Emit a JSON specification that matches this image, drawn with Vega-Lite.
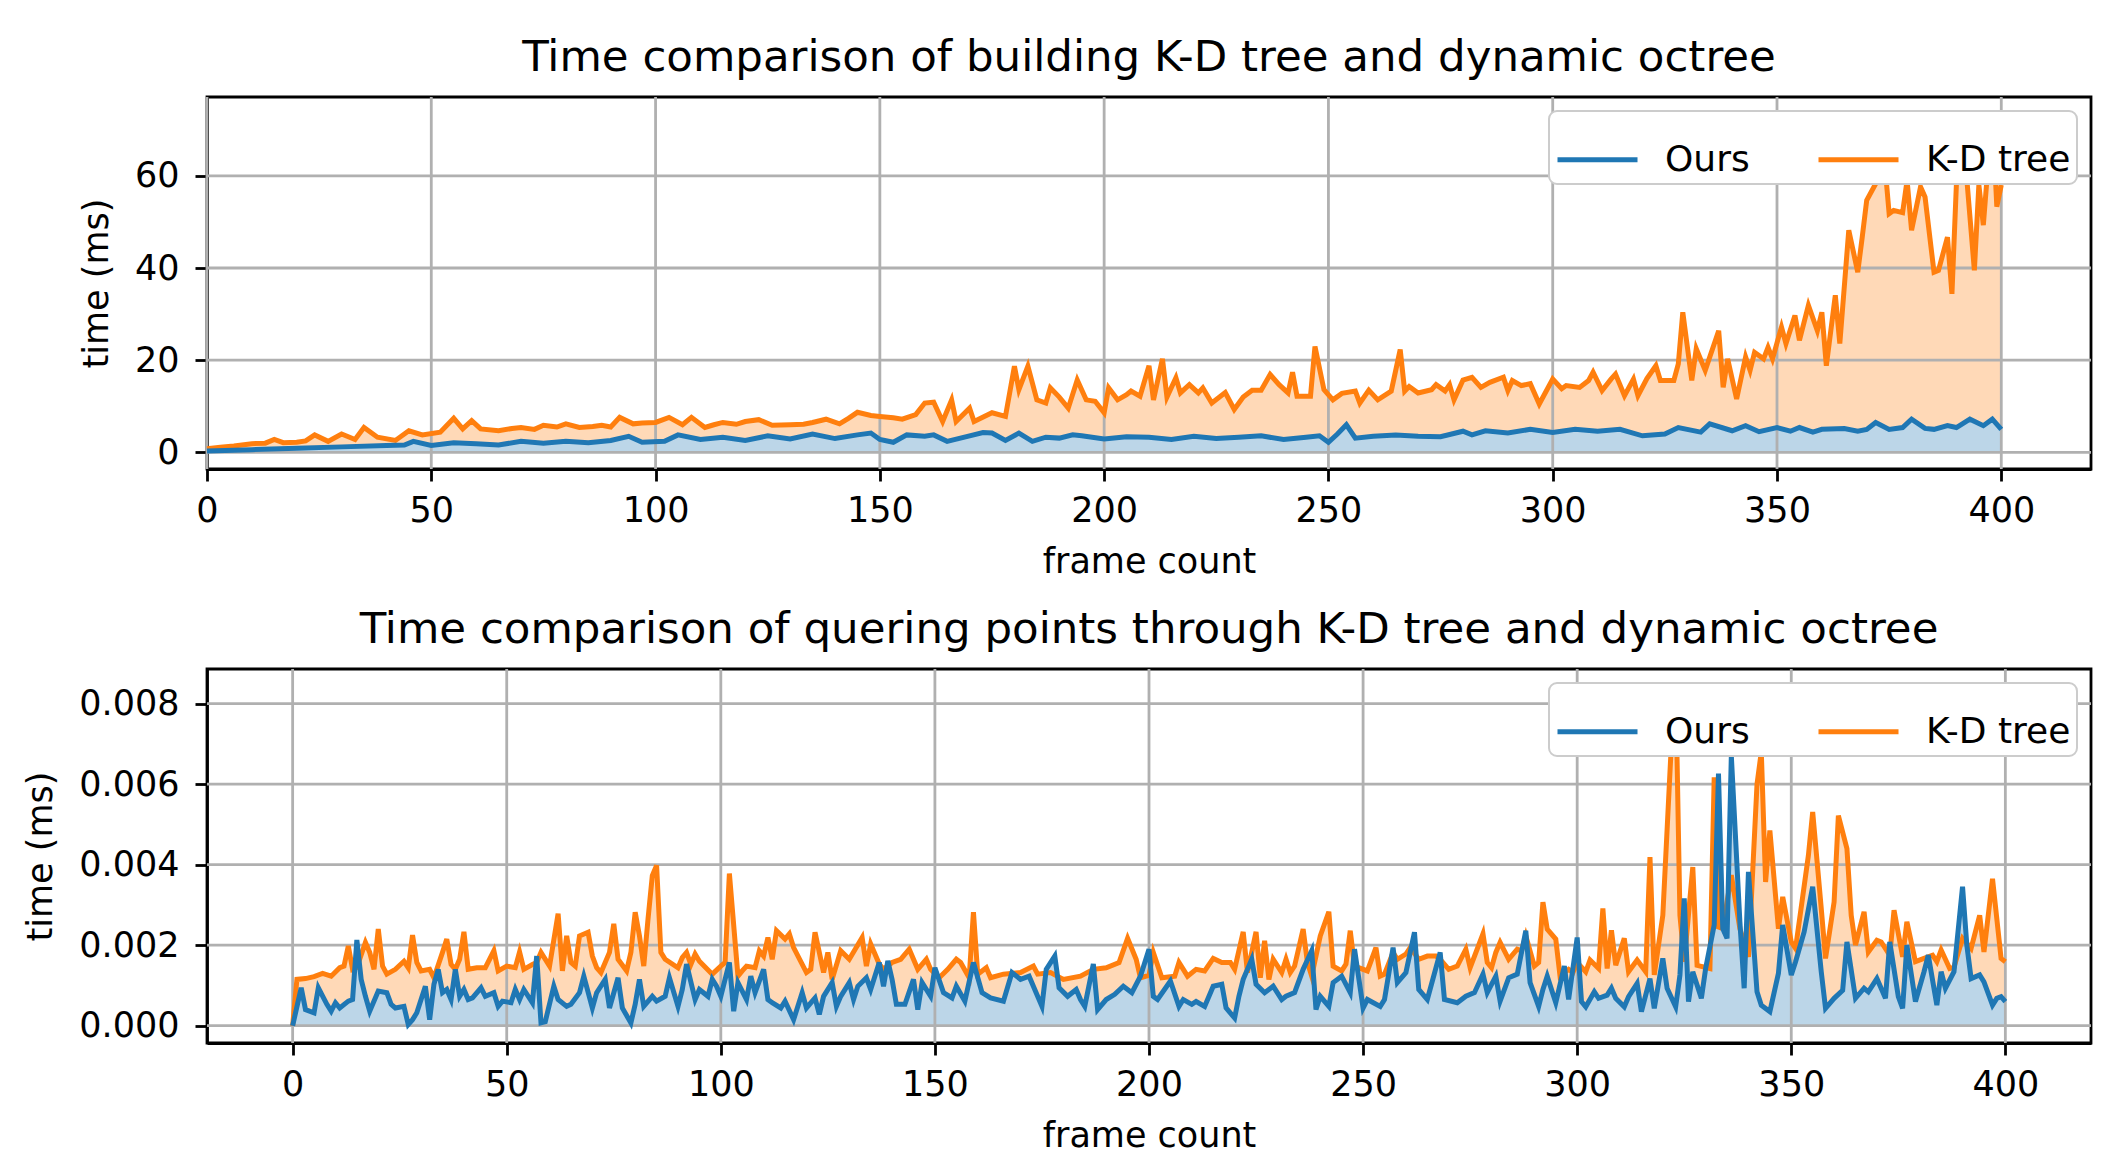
{
  "$schema": "https://vega.github.io/schema/vega-lite/v6.json",
  "background": "white",
  "padding": {"left": 22, "top": 34, "right": 0, "bottom": 0},
  "autosize": {"type": "pad"},
  "config": {
    "font": "DejaVu Sans",
    "view": {"stroke": "black", "strokeWidth": 2.8},
    "axis": {
      "grid": false,
      "domainColor": "black",
      "domainWidth": 2.8,
      "tickColor": "black",
      "tickWidth": 2.8,
      "tickSize": 12,
      "labelFont": "DejaVu Sans",
      "labelFontSize": 35,
      "labelColor": "black",
      "labelPadding": 12,
      "labelFlush": false,
      "labelOverlap": false,
      "titleFont": "DejaVu Sans",
      "titleFontSize": 35,
      "titleFontWeight": "normal",
      "titleColor": "black",
      "titlePadding": 16
    },
    "axisY": {"labelPadding": 16, "titlePadding": 20},
    "title": {
      "font": "DejaVu Sans",
      "fontSize": 43.5,
      "fontWeight": "normal",
      "color": "black",
      "anchor": "middle",
      "offset": 15,
      "baseline": "alphabetic"
    },
    "legend": {
      "orient": "top-right",
      "direction": "horizontal",
      "columns": 2,
      "offset": 14,
      "padding": 6,
      "fillColor": "white",
      "strokeColor": "#cccccc",
      "strokeWidth": 2,
      "cornerRadius": 8,
      "labelFont": "DejaVu Sans",
      "labelFontSize": 36,
      "labelColor": "black",
      "labelLimit": 400,
      "labelOffset": 25,
      "columnPadding": 58,
      "symbolType": "stroke",
      "symbolSize": 6400,
      "symbolStrokeWidth": 5
    }
  },
  "datasets": {
    "topOurs": [
      {"f":0,"v":0.3},{"f":10,"v":0.6},{"f":20,"v":0.9},{"f":30,"v":1.2},{"f":40,"v":1.5},{"f":44,"v":1.6},{"f":46,"v":2.4},{"f":50,"v":1.5},{"f":55,"v":2.1},{"f":60,"v":1.9},{"f":65,"v":1.6},{"f":70,"v":2.4},{"f":75,"v":2.0},{"f":80,"v":2.4},{"f":85,"v":2.1},{"f":90,"v":2.6},{"f":94,"v":3.5},{"f":97,"v":2.2},{"f":102,"v":2.4},{"f":105,"v":3.8},{"f":110,"v":2.8},{"f":115,"v":3.3},{"f":120,"v":2.6},{"f":125,"v":3.6},{"f":130,"v":2.9},{"f":135,"v":4.0},{"f":140,"v":3.0},{"f":145,"v":3.8},{"f":148,"v":4.2},{"f":150,"v":2.8},{"f":153,"v":2.2},{"f":156,"v":3.8},{"f":160,"v":3.5},{"f":162,"v":3.8},{"f":165,"v":2.4},{"f":170,"v":3.6},{"f":173,"v":4.3},{"f":175,"v":4.2},{"f":178,"v":2.6},{"f":181,"v":4.2},{"f":184,"v":2.4},{"f":187,"v":3.3},{"f":190,"v":3.1},{"f":193,"v":3.8},{"f":195,"v":3.6},{"f":200,"v":2.9},{"f":205,"v":3.4},{"f":210,"v":3.3},{"f":215,"v":2.8},{"f":220,"v":3.5},{"f":225,"v":3.0},{"f":230,"v":3.3},{"f":235,"v":3.6},{"f":240,"v":2.8},{"f":245,"v":3.3},{"f":248,"v":3.6},{"f":250,"v":2.2},{"f":252,"v":4.0},{"f":254,"v":6.0},{"f":256,"v":3.1},{"f":260,"v":3.5},{"f":265,"v":3.8},{"f":270,"v":3.5},{"f":275,"v":3.4},{"f":280,"v":4.6},{"f":282,"v":3.8},{"f":285,"v":4.7},{"f":290,"v":4.2},{"f":295,"v":5.0},{"f":300,"v":4.3},{"f":305,"v":5.0},{"f":310,"v":4.6},{"f":315,"v":5.0},{"f":320,"v":3.6},{"f":325,"v":4.0},{"f":328,"v":5.4},{"f":333,"v":4.4},{"f":335,"v":6.2},{"f":340,"v":4.7},{"f":343,"v":5.8},{"f":346,"v":4.5},{"f":350,"v":5.4},{"f":353,"v":4.6},{"f":355,"v":5.4},{"f":358,"v":4.4},{"f":360,"v":5.0},{"f":365,"v":5.2},{"f":368,"v":4.6},{"f":370,"v":5.0},{"f":372,"v":6.5},{"f":375,"v":5.0},{"f":378,"v":5.4},{"f":380,"v":7.2},{"f":383,"v":5.2},{"f":385,"v":5.0},{"f":388,"v":5.8},{"f":390,"v":5.4},{"f":393,"v":7.2},{"f":396,"v":5.8},{"f":398,"v":7.2},{"f":400,"v":5.0}
    ],
    "topKD": [
      {"f":0,"v":0.8},{"f":3,"v":1.1},{"f":6,"v":1.4},{"f":10,"v":1.9},{"f":13,"v":2.0},{"f":15,"v":2.8},{"f":17,"v":2.1},{"f":20,"v":2.2},{"f":22,"v":2.5},{"f":24,"v":3.8},{"f":27,"v":2.4},{"f":30,"v":4.0},{"f":33,"v":2.8},{"f":35,"v":5.4},{"f":38,"v":3.3},{"f":42,"v":2.6},{"f":45,"v":4.7},{"f":48,"v":3.8},{"f":52,"v":4.4},{"f":55,"v":7.4},{"f":57,"v":5.1},{"f":59,"v":6.9},{"f":61,"v":5.1},{"f":65,"v":4.7},{"f":68,"v":5.2},{"f":70,"v":5.4},{"f":73,"v":5.0},{"f":75,"v":5.9},{"f":78,"v":5.5},{"f":80,"v":6.2},{"f":83,"v":5.4},{"f":86,"v":5.6},{"f":88,"v":5.9},{"f":90,"v":5.5},{"f":92,"v":7.6},{"f":95,"v":6.2},{"f":97,"v":6.4},{"f":100,"v":6.5},{"f":103,"v":7.6},{"f":106,"v":6.0},{"f":108,"v":7.6},{"f":111,"v":5.4},{"f":113,"v":6.0},{"f":115,"v":6.5},{"f":118,"v":6.1},{"f":120,"v":6.7},{"f":123,"v":7.1},{"f":126,"v":5.9},{"f":130,"v":6.0},{"f":133,"v":6.1},{"f":135,"v":6.5},{"f":138,"v":7.2},{"f":141,"v":6.2},{"f":143,"v":7.4},{"f":145,"v":8.7},{"f":148,"v":8.0},{"f":150,"v":7.8},{"f":153,"v":7.5},{"f":155,"v":7.2},{"f":158,"v":8.2},{"f":160,"v":10.7},{"f":162,"v":10.9},{"f":164,"v":6.7},{"f":166,"v":11.4},{"f":167,"v":6.7},{"f":170,"v":9.6},{"f":171,"v":6.7},{"f":175,"v":8.6},{"f":178,"v":7.8},{"f":180,"v":18.7},{"f":181,"v":13.6},{"f":183,"v":18.7},{"f":185,"v":11.4},{"f":187,"v":10.7},{"f":188,"v":14.0},{"f":190,"v":12.0},{"f":192,"v":9.6},{"f":194,"v":15.7},{"f":196,"v":11.4},{"f":198,"v":11.1},{"f":200,"v":8.6},{"f":201,"v":14.0},{"f":203,"v":11.4},{"f":205,"v":12.5},{"f":206,"v":13.3},{"f":208,"v":12.2},{"f":210,"v":18.8},{"f":211,"v":11.4},{"f":213,"v":20.3},{"f":214,"v":12.0},{"f":216,"v":16.2},{"f":217,"v":12.9},{"f":219,"v":14.7},{"f":221,"v":12.9},{"f":222,"v":14.0},{"f":224,"v":10.7},{"f":227,"v":13.0},{"f":229,"v":9.3},{"f":231,"v":12.0},{"f":233,"v":13.5},{"f":235,"v":13.5},{"f":237,"v":16.9},{"f":239,"v":14.7},{"f":241,"v":12.9},{"f":242,"v":17.4},{"f":243,"v":12.2},{"f":246,"v":12.2},{"f":247,"v":23.0},{"f":249,"v":13.6},{"f":251,"v":11.4},{"f":253,"v":12.8},{"f":256,"v":13.3},{"f":257,"v":10.7},{"f":259,"v":13.5},{"f":261,"v":11.4},{"f":264,"v":13.3},{"f":266,"v":22.3},{"f":267,"v":13.3},{"f":268,"v":14.3},{"f":270,"v":12.9},{"f":273,"v":13.6},{"f":274,"v":14.7},{"f":276,"v":13.3},{"f":277,"v":14.7},{"f":278,"v":11.4},{"f":280,"v":15.7},{"f":282,"v":16.3},{"f":284,"v":14.1},{"f":286,"v":15.2},{"f":289,"v":16.3},{"f":290,"v":13.4},{"f":291,"v":15.6},{"f":293,"v":14.5},{"f":295,"v":14.9},{"f":297,"v":10.5},{"f":300,"v":15.9},{"f":302,"v":13.8},{"f":303,"v":14.5},{"f":306,"v":14.1},{"f":308,"v":15.6},{"f":309,"v":17.4},{"f":311,"v":13.4},{"f":313,"v":15.9},{"f":314,"v":17.0},{"f":316,"v":12.3},{"f":318,"v":15.9},{"f":319,"v":12.3},{"f":321,"v":16.0},{"f":323,"v":18.8},{"f":324,"v":15.6},{"f":327,"v":15.6},{"f":328,"v":19.2},{"f":329,"v":30.4},{"f":331,"v":15.6},{"f":332,"v":22.5},{"f":334,"v":17.8},{"f":337,"v":26.4},{"f":338,"v":14.1},{"f":339,"v":20.3},{"f":341,"v":11.6},{"f":343,"v":20.7},{"f":344,"v":17.8},{"f":345,"v":21.7},{"f":347,"v":20.3},{"f":348,"v":22.8},{"f":349,"v":20.3},{"f":351,"v":27.2},{"f":352,"v":23.6},{"f":354,"v":29.7},{"f":355,"v":24.3},{"f":357,"v":31.9},{"f":359,"v":26.4},{"f":360,"v":30.4},{"f":361,"v":18.8},{"f":363,"v":34.1},{"f":364,"v":23.6},{"f":366,"v":48.2},{"f":368,"v":39.1},{"f":369,"v":46.7},{"f":370,"v":54.7},{"f":372,"v":58.3},{"f":373,"v":61.0},{"f":374,"v":63.0},{"f":375,"v":51.8},{"f":376,"v":52.5},{"f":378,"v":52.0},{"f":379,"v":59.0},{"f":380,"v":48.2},{"f":382,"v":57.6},{"f":383,"v":55.4},{"f":385,"v":39.1},{"f":386,"v":39.5},{"f":388,"v":46.7},{"f":389,"v":34.4},{"f":390,"v":58.3},{"f":392,"v":63.0},{"f":394,"v":39.5},{"f":395,"v":58.0},{"f":396,"v":49.3},{"f":398,"v":74.0},{"f":399,"v":53.3},{"f":400,"v":58.0}
    ],
    "botOurs": [
      {"f":0,"v":0},{"f":2,"v":0.00094},{"f":3,"v":0.0004},{"f":5,"v":0.00032},{"f":6,"v":0.00094},{"f":8,"v":0.00053},{"f":9,"v":0.00036},{"f":10,"v":0.00057},{"f":11,"v":0.00044},{"f":13,"v":0.00061},{"f":14,"v":0.00065},{"f":15,"v":0.00213},{"f":16,"v":0.00115},{"f":17,"v":0.00073},{"f":18,"v":0.00036},{"f":20,"v":0.00086},{"f":22,"v":0.00082},{"f":23,"v":0.00053},{"f":24,"v":0.00044},{"f":26,"v":0.00048},{"f":27,"v":0.00003},{"f":28,"v":0.00015},{"f":29,"v":0.00032},{"f":31,"v":0.00098},{"f":32,"v":0.00015},{"f":33,"v":0.00103},{"f":34,"v":0.0014},{"f":35,"v":0.00082},{"f":36,"v":0.0009},{"f":37,"v":0.00065},{"f":38,"v":0.0014},{"f":39,"v":0.00073},{"f":40,"v":0.0009},{"f":41,"v":0.00065},{"f":42,"v":0.00069},{"f":44,"v":0.00094},{"f":45,"v":0.00073},{"f":47,"v":0.00082},{"f":48,"v":0.00048},{"f":49,"v":0.00061},{"f":51,"v":0.00057},{"f":52,"v":0.0009},{"f":53,"v":0.00065},{"f":54,"v":0.0009},{"f":56,"v":0.00057},{"f":57,"v":0.00173},{"f":58,"v":0.00007},{"f":59,"v":0.0001},{"f":61,"v":0.00098},{"f":62,"v":0.00065},{"f":64,"v":0.00048},{"f":65,"v":0.00053},{"f":67,"v":0.00082},{"f":68,"v":0.00123},{"f":70,"v":0.00044},{"f":71,"v":0.00082},{"f":73,"v":0.00115},{"f":74,"v":0.00044},{"f":76,"v":0.00119},{"f":77,"v":0.00044},{"f":79,"v":0.00007},{"f":80,"v":0.00053},{"f":81,"v":0.00115},{"f":82,"v":0.00048},{"f":84,"v":0.00073},{"f":85,"v":0.00061},{"f":87,"v":0.00073},{"f":88,"v":0.00119},{"f":90,"v":0.00048},{"f":91,"v":0.0009},{"f":92,"v":0.00153},{"f":94,"v":0.00065},{"f":95,"v":0.0009},{"f":97,"v":0.00073},{"f":98,"v":0.00115},{"f":99,"v":0.00098},{"f":100,"v":0.00073},{"f":102,"v":0.00157},{"f":103,"v":0.00036},{"f":104,"v":0.00107},{"f":106,"v":0.00065},{"f":107,"v":0.00123},{"f":108,"v":0.00082},{"f":110,"v":0.0014},{"f":111,"v":0.00065},{"f":112,"v":0.00057},{"f":114,"v":0.00044},{"f":115,"v":0.00061},{"f":117,"v":0.00015},{"f":119,"v":0.00082},{"f":120,"v":0.00044},{"f":122,"v":0.00069},{"f":123,"v":0.00028},{"f":124,"v":0.00073},{"f":126,"v":0.00107},{"f":127,"v":0.00048},{"f":128,"v":0.00073},{"f":130,"v":0.00107},{"f":131,"v":0.00065},{"f":132,"v":0.00098},{"f":134,"v":0.00119},{"f":135,"v":0.0009},{"f":137,"v":0.00157},{"f":138,"v":0.00098},{"f":139,"v":0.00161},{"f":140,"v":0.00115},{"f":141,"v":0.00053},{"f":143,"v":0.00053},{"f":145,"v":0.00115},{"f":146,"v":0.0004},{"f":147,"v":0.00107},{"f":149,"v":0.00073},{"f":150,"v":0.00144},{"f":152,"v":0.00082},{"f":154,"v":0.00069},{"f":155,"v":0.00098},{"f":157,"v":0.00061},{"f":159,"v":0.00157},{"f":161,"v":0.00082},{"f":163,"v":0.00069},{"f":166,"v":0.00061},{"f":168,"v":0.00132},{"f":170,"v":0.00115},{"f":172,"v":0.00123},{"f":175,"v":0.00048},{"f":176,"v":0.0014},{"f":178,"v":0.00173},{"f":179,"v":0.00094},{"f":181,"v":0.00073},{"f":183,"v":0.0009},{"f":184,"v":0.00065},{"f":185,"v":0.00048},{"f":187,"v":0.00153},{"f":188,"v":0.0004},{"f":190,"v":0.00065},{"f":192,"v":0.00078},{"f":194,"v":0.00098},{"f":196,"v":0.00082},{"f":198,"v":0.00123},{"f":200,"v":0.0019},{"f":201,"v":0.00073},{"f":202,"v":0.00065},{"f":205,"v":0.00111},{"f":207,"v":0.00048},{"f":208,"v":0.00065},{"f":210,"v":0.00053},{"f":211,"v":0.0006},{"f":213,"v":0.00048},{"f":215,"v":0.00098},{"f":217,"v":0.00103},{"f":218,"v":0.00044},{"f":220,"v":0.00019},{"f":221,"v":0.00073},{"f":222,"v":0.00115},{"f":224,"v":0.00165},{"f":225,"v":0.00103},{"f":227,"v":0.00082},{"f":229,"v":0.00098},{"f":231,"v":0.00065},{"f":232,"v":0.00073},{"f":234,"v":0.00082},{"f":236,"v":0.0014},{"f":238,"v":0.00186},{"f":239,"v":0.0004},{"f":240,"v":0.00073},{"f":242,"v":0.00048},{"f":243,"v":0.00107},{"f":245,"v":0.00123},{"f":247,"v":0.00082},{"f":248,"v":0.0019},{"f":250,"v":0.00044},{"f":251,"v":0.00065},{"f":254,"v":0.00048},{"f":255,"v":0.00065},{"f":257,"v":0.00194},{"f":258,"v":0.00107},{"f":260,"v":0.00132},{"f":262,"v":0.00232},{"f":263,"v":0.0009},{"f":265,"v":0.00065},{"f":268,"v":0.00182},{"f":269,"v":0.00065},{"f":272,"v":0.00057},{"f":274,"v":0.00073},{"f":276,"v":0.00082},{"f":278,"v":0.00128},{"f":279,"v":0.00082},{"f":281,"v":0.00123},{"f":282,"v":0.00061},{"f":284,"v":0.00119},{"f":286,"v":0.00128},{"f":288,"v":0.00236},{"f":289,"v":0.00107},{"f":291,"v":0.00048},{"f":292,"v":0.0009},{"f":293,"v":0.00123},{"f":295,"v":0.00057},{"f":297,"v":0.00148},{"f":298,"v":0.00065},{"f":300,"v":0.00219},{"f":301,"v":0.0006},{"f":302,"v":0.00047},{"f":304,"v":0.00084},{"f":305,"v":0.00068},{"f":307,"v":0.00076},{"f":308,"v":0.00093},{"f":309,"v":0.00068},{"f":311,"v":0.00047},{"f":312,"v":0.00072},{"f":314,"v":0.00105},{"f":315,"v":0.00035},{"f":317,"v":0.00117},{"f":318,"v":0.00043},{"f":320,"v":0.00167},{"f":321,"v":0.00093},{"f":323,"v":0.00047},{"f":324,"v":0.00126},{"f":325,"v":0.00316},{"f":326,"v":0.0006},{"f":327,"v":0.00134},{"f":329,"v":0.00068},{"f":330,"v":0.00142},{"f":332,"v":0.0025},{"f":333,"v":0.00626},{"f":334,"v":0.00241},{"f":335,"v":0.00217},{"f":336,"v":0.0067},{"f":338,"v":0.00258},{"f":339,"v":0.00093},{"f":340,"v":0.00382},{"f":342,"v":0.00084},{"f":343,"v":0.00051},{"f":345,"v":0.00035},{"f":347,"v":0.0013},{"f":348,"v":0.0025},{"f":350,"v":0.00126},{"f":351,"v":0.00159},{"f":353,"v":0.00233},{"f":355,"v":0.00345},{"f":357,"v":0.00134},{"f":358,"v":0.00043},{"f":360,"v":0.00068},{"f":362,"v":0.00088},{"f":363,"v":0.00208},{"f":365,"v":0.00068},{"f":367,"v":0.00093},{"f":368,"v":0.00084},{"f":370,"v":0.00117},{"f":372,"v":0.00068},{"f":373,"v":0.00208},{"f":375,"v":0.00072},{"f":376,"v":0.00043},{"f":377,"v":0.002},{"f":379,"v":0.0006},{"f":381,"v":0.00134},{"f":382,"v":0.00175},{"f":384,"v":0.00051},{"f":385,"v":0.00134},{"f":386,"v":0.00093},{"f":388,"v":0.00134},{"f":390,"v":0.00345},{"f":391,"v":0.002},{"f":392,"v":0.00117},{"f":394,"v":0.00126},{"f":395,"v":0.00109},{"f":397,"v":0.00051},{"f":398,"v":0.00068},{"f":399,"v":0.00072},{"f":400,"v":0.0006}
    ],
    "botKD": [
      {"f":0,"v":0},{"f":1,"v":0.00115},{"f":3,"v":0.00117},{"f":5,"v":0.00122},{"f":7,"v":0.0013},{"f":9,"v":0.00123},{"f":11,"v":0.00144},{"f":12,"v":0.00148},{"f":13,"v":0.00198},{"f":14,"v":0.0014},{"f":15,"v":0.00145},{"f":17,"v":0.00207},{"f":18,"v":0.00182},{"f":19,"v":0.0014},{"f":20,"v":0.0024},{"f":21,"v":0.00148},{"f":22,"v":0.00128},{"f":24,"v":0.0014},{"f":26,"v":0.0016},{"f":27,"v":0.00144},{"f":28,"v":0.00225},{"f":29,"v":0.00157},{"f":30,"v":0.00136},{"f":32,"v":0.0014},{"f":33,"v":0.00119},{"f":35,"v":0.00182},{"f":36,"v":0.00215},{"f":37,"v":0.00152},{"f":38,"v":0.0014},{"f":39,"v":0.00165},{"f":40,"v":0.00233},{"f":41,"v":0.0014},{"f":43,"v":0.00144},{"f":45,"v":0.00144},{"f":47,"v":0.00186},{"f":48,"v":0.00136},{"f":50,"v":0.00148},{"f":52,"v":0.00144},{"f":53,"v":0.00183},{"f":54,"v":0.0014},{"f":56,"v":0.00152},{"f":57,"v":0.00157},{"f":58,"v":0.00182},{"f":60,"v":0.00148},{"f":62,"v":0.00278},{"f":63,"v":0.00136},{"f":64,"v":0.00223},{"f":65,"v":0.00157},{"f":66,"v":0.00148},{"f":67,"v":0.00223},{"f":69,"v":0.00232},{"f":70,"v":0.00173},{"f":71,"v":0.00144},{"f":72,"v":0.00132},{"f":74,"v":0.00182},{"f":75,"v":0.00253},{"f":76,"v":0.00165},{"f":78,"v":0.00136},{"f":79,"v":0.00182},{"f":80,"v":0.00282},{"f":81,"v":0.00223},{"f":82,"v":0.00148},{"f":83,"v":0.00265},{"f":84,"v":0.00373},{"f":85,"v":0.00398},{"f":86,"v":0.00182},{"f":87,"v":0.00165},{"f":90,"v":0.00144},{"f":91,"v":0.00169},{"f":92,"v":0.00182},{"f":93,"v":0.00152},{"f":94,"v":0.00178},{"f":95,"v":0.0016},{"f":98,"v":0.00128},{"f":100,"v":0.00148},{"f":101,"v":0.00157},{"f":102,"v":0.00378},{"f":104,"v":0.00123},{"f":105,"v":0.00136},{"f":106,"v":0.00148},{"f":108,"v":0.00144},{"f":109,"v":0.00186},{"f":110,"v":0.00173},{"f":111,"v":0.00219},{"f":112,"v":0.00165},{"f":113,"v":0.00236},{"f":115,"v":0.00215},{"f":116,"v":0.00228},{"f":117,"v":0.00194},{"f":120,"v":0.00132},{"f":121,"v":0.0014},{"f":122,"v":0.00232},{"f":124,"v":0.00132},{"f":125,"v":0.00182},{"f":126,"v":0.00115},{"f":128,"v":0.00186},{"f":130,"v":0.00165},{"f":133,"v":0.00219},{"f":134,"v":0.00148},{"f":135,"v":0.00203},{"f":137,"v":0.00153},{"f":138,"v":0.0014},{"f":140,"v":0.00157},{"f":142,"v":0.00165},{"f":144,"v":0.0019},{"f":146,"v":0.0014},{"f":148,"v":0.00165},{"f":149,"v":0.0014},{"f":151,"v":0.00119},{"f":153,"v":0.0014},{"f":155,"v":0.00165},{"f":156,"v":0.00157},{"f":158,"v":0.00119},{"f":159,"v":0.00282},{"f":160,"v":0.00128},{"f":162,"v":0.00144},{"f":163,"v":0.00119},{"f":166,"v":0.00128},{"f":170,"v":0.00132},{"f":173,"v":0.00148},{"f":174,"v":0.00128},{"f":177,"v":0.00132},{"f":180,"v":0.00115},{"f":184,"v":0.00123},{"f":187,"v":0.0014},{"f":190,"v":0.00144},{"f":193,"v":0.00157},{"f":195,"v":0.00217},{"f":197,"v":0.00165},{"f":198,"v":0.00119},{"f":200,"v":0.00125},{"f":201,"v":0.00182},{"f":203,"v":0.00119},{"f":206,"v":0.00123},{"f":207,"v":0.00157},{"f":209,"v":0.00123},{"f":211,"v":0.0014},{"f":213,"v":0.00136},{"f":215,"v":0.00167},{"f":217,"v":0.00157},{"f":219,"v":0.00157},{"f":220,"v":0.0014},{"f":222,"v":0.00233},{"f":223,"v":0.00132},{"f":225,"v":0.00233},{"f":226,"v":0.00119},{"f":227,"v":0.00211},{"f":228,"v":0.00115},{"f":229,"v":0.00165},{"f":231,"v":0.00132},{"f":232,"v":0.00165},{"f":233,"v":0.00132},{"f":234,"v":0.00148},{"f":236,"v":0.0024},{"f":237,"v":0.00157},{"f":238,"v":0.00123},{"f":239,"v":0.00173},{"f":240,"v":0.00223},{"f":242,"v":0.00283},{"f":243,"v":0.00148},{"f":245,"v":0.00136},{"f":246,"v":0.00153},{"f":247,"v":0.00236},{"f":248,"v":0.00148},{"f":251,"v":0.00136},{"f":253,"v":0.00194},{"f":254,"v":0.00123},{"f":255,"v":0.00128},{"f":257,"v":0.00182},{"f":258,"v":0.00165},{"f":260,"v":0.00178},{"f":261,"v":0.00194},{"f":263,"v":0.00165},{"f":265,"v":0.00173},{"f":267,"v":0.00173},{"f":268,"v":0.00165},{"f":270,"v":0.0014},{"f":272,"v":0.00148},{"f":274,"v":0.0019},{"f":275,"v":0.00144},{"f":278,"v":0.00228},{"f":279,"v":0.00157},{"f":280,"v":0.00144},{"f":281,"v":0.00182},{"f":282,"v":0.00207},{"f":284,"v":0.00165},{"f":286,"v":0.0019},{"f":287,"v":0.00186},{"f":288,"v":0.00223},{"f":290,"v":0.00148},{"f":291,"v":0.00157},{"f":292,"v":0.00307},{"f":293,"v":0.0024},{"f":295,"v":0.00215},{"f":296,"v":0.00123},{"f":298,"v":0.0014},{"f":299,"v":0.00132},{"f":300,"v":0.00157},{"f":302,"v":0.00134},{"f":303,"v":0.00163},{"f":305,"v":0.00142},{"f":306,"v":0.00291},{"f":307,"v":0.00142},{"f":308,"v":0.00237},{"f":309,"v":0.0015},{"f":311,"v":0.00217},{"f":312,"v":0.00134},{"f":314,"v":0.00163},{"f":316,"v":0.00134},{"f":317,"v":0.00419},{"f":318,"v":0.00126},{"f":320,"v":0.00274},{"f":322,"v":0.007},{"f":323,"v":0.0085},{"f":324,"v":0.00274},{"f":325,"v":0.00159},{"f":327,"v":0.00394},{"f":328,"v":0.0015},{"f":331,"v":0.00142},{"f":332,"v":0.00617},{"f":333,"v":0.00245},{"f":334,"v":0.00241},{"f":336,"v":0.00374},{"f":338,"v":0.00241},{"f":340,"v":0.00171},{"f":342,"v":0.006},{"f":343,"v":0.0068},{"f":344,"v":0.00357},{"f":345,"v":0.00485},{"f":347,"v":0.00241},{"f":348,"v":0.0032},{"f":350,"v":0.00208},{"f":351,"v":0.00192},{"f":354,"v":0.00423},{"f":355,"v":0.00531},{"f":357,"v":0.00291},{"f":358,"v":0.00167},{"f":360,"v":0.00307},{"f":361,"v":0.00522},{"f":363,"v":0.0044},{"f":364,"v":0.00274},{"f":365,"v":0.002},{"f":367,"v":0.00283},{"f":368,"v":0.00183},{"f":370,"v":0.00212},{"f":371,"v":0.00208},{"f":373,"v":0.00175},{"f":374,"v":0.00287},{"f":376,"v":0.00171},{"f":377,"v":0.00258},{"f":379,"v":0.00159},{"f":381,"v":0.00167},{"f":383,"v":0.00175},{"f":384,"v":0.00159},{"f":385,"v":0.00188},{"f":387,"v":0.00142},{"f":388,"v":0.00145},{"f":390,"v":0.00217},{"f":392,"v":0.00192},{"f":394,"v":0.00274},{"f":395,"v":0.00183},{"f":397,"v":0.00365},{"f":399,"v":0.00167},{"f":400,"v":0.00159}
    ]
  },
  "bounds": "flush",
  "spacing": 200,
  "resolve": {"scale": {"color": "independent"}},
  "vconcat": [
    {
      "title": "Time comparison of building K-D tree and dynamic octree",
      "width": 1884,
      "height": 372,
      "layer": [
        {
          "data": {"name": "topKD"},
          "mark": {"type": "area", "color": "#ffd9b7"},
          "encoding": {
            "x": {"field": "f", "type": "quantitative", "scale": {"domain": [0, 420], "nice": false, "zero": false}, "axis": {"values": [0, 50, 100, 150, 200, 250, 300, 350, 400], "title": "frame count"}},
            "y": {"field": "v", "type": "quantitative", "scale": {"domain": [-3.6, 77.1], "nice": false, "zero": false}, "axis": {"values": [0, 20, 40, 60], "title": "time (ms)"}},
            "y2": {"datum": 0}
          }
        },
        {
          "data": {"name": "topOurs"},
          "mark": {"type": "area", "color": "#bcd6e8"},
          "encoding": {
            "x": {"field": "f", "type": "quantitative"},
            "y": {"field": "v", "type": "quantitative"},
            "y2": {"datum": 0}
          }
        },
        {
          "data": {"values": [{"f": 0}, {"f": 50}, {"f": 100}, {"f": 150}, {"f": 200}, {"f": 250}, {"f": 300}, {"f": 350}, {"f": 400}]},
          "mark": {"type": "rule", "color": "#b0b0b0", "strokeWidth": 2.8},
          "encoding": {"x": {"field": "f", "type": "quantitative"}}
        },
        {
          "data": {"values": [{"v": 0}, {"v": 20}, {"v": 40}, {"v": 60}]},
          "mark": {"type": "rule", "color": "#b0b0b0", "strokeWidth": 2.8},
          "encoding": {"y": {"field": "v", "type": "quantitative"}}
        },
        {
          "data": {"name": "topKD"},
          "mark": {"type": "line", "strokeWidth": 5},
          "encoding": {
            "x": {"field": "f", "type": "quantitative"},
            "y": {"field": "v", "type": "quantitative"},
            "color": {"datum": "K-D tree", "type": "nominal", "scale": {"domain": ["Ours", "K-D tree"], "range": ["#1f77b4", "#ff7f0e"]}, "legend": {"title": null}}
          }
        },
        {
          "data": {"name": "topOurs"},
          "mark": {"type": "line", "strokeWidth": 5},
          "encoding": {
            "x": {"field": "f", "type": "quantitative"},
            "y": {"field": "v", "type": "quantitative"},
            "color": {"datum": "Ours", "type": "nominal"}
          }
        }
      ]
    },
    {
      "title": "Time comparison of quering points through K-D tree and dynamic octree",
      "width": 1884,
      "height": 374,
      "layer": [
        {
          "data": {"name": "botKD"},
          "mark": {"type": "area", "color": "#ffd9b7"},
          "encoding": {
            "x": {"field": "f", "type": "quantitative", "scale": {"domain": [-20, 420], "nice": false, "zero": false}, "axis": {"values": [0, 50, 100, 150, 200, 250, 300, 350, 400], "title": "frame count"}},
            "y": {"field": "v", "type": "quantitative", "scale": {"domain": [-0.00043, 0.00886], "nice": false, "zero": false}, "axis": {"values": [0, 0.002, 0.004, 0.006, 0.008], "format": ".3f", "title": "time (ms)"}},
            "y2": {"datum": 0}
          }
        },
        {
          "data": {"name": "botOurs"},
          "mark": {"type": "area", "color": "#bcd6e8"},
          "encoding": {
            "x": {"field": "f", "type": "quantitative"},
            "y": {"field": "v", "type": "quantitative"},
            "y2": {"datum": 0}
          }
        },
        {
          "data": {"values": [{"f": 0}, {"f": 50}, {"f": 100}, {"f": 150}, {"f": 200}, {"f": 250}, {"f": 300}, {"f": 350}, {"f": 400}]},
          "mark": {"type": "rule", "color": "#b0b0b0", "strokeWidth": 2.8},
          "encoding": {"x": {"field": "f", "type": "quantitative"}}
        },
        {
          "data": {"values": [{"v": 0}, {"v": 0.002}, {"v": 0.004}, {"v": 0.006}, {"v": 0.008}]},
          "mark": {"type": "rule", "color": "#b0b0b0", "strokeWidth": 2.8},
          "encoding": {"y": {"field": "v", "type": "quantitative"}}
        },
        {
          "data": {"name": "botKD"},
          "mark": {"type": "line", "strokeWidth": 5},
          "encoding": {
            "x": {"field": "f", "type": "quantitative"},
            "y": {"field": "v", "type": "quantitative"},
            "color": {"datum": "K-D tree", "type": "nominal", "scale": {"domain": ["Ours", "K-D tree"], "range": ["#1f77b4", "#ff7f0e"]}, "legend": {"title": null}}
          }
        },
        {
          "data": {"name": "botOurs"},
          "mark": {"type": "line", "strokeWidth": 5},
          "encoding": {
            "x": {"field": "f", "type": "quantitative"},
            "y": {"field": "v", "type": "quantitative"},
            "color": {"datum": "Ours", "type": "nominal"}
          }
        }
      ]
    }
  ]
}
